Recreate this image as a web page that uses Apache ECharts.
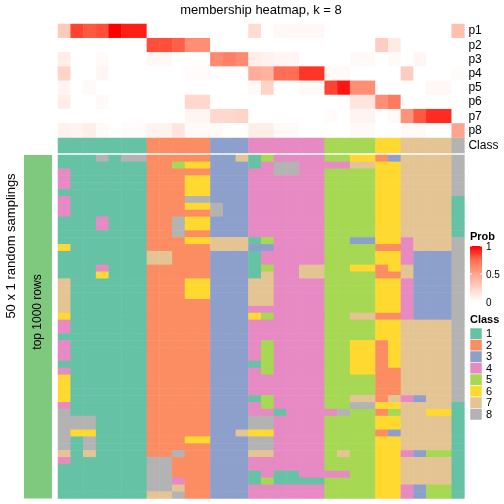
<!DOCTYPE html>
<html>
<head>
<meta charset="utf-8">
<script src="https://cdn.jsdelivr.net/npm/echarts@6/dist/echarts.min.js"></script>
<style>html,body{margin:0;padding:0;background:#fff}#c{width:504px;height:504px}</style>
</head>
<body>
<div id="c"></div>
<script>
// ---------- data ----------
var probRows = ['p1','p2','p3','p4','p5','p6','p7','p8'];
var p1 = [0.3,0.85,0.8,0.82,1.0,0.93,0.93, 0,0,0,0,0, 0,0,0, 0.2,0,0.04,0.04,0.04,0.04, 0,0,0,0, 0,0, 0,0,0,0, 0.35];
var p2 = [0,0,0,0,0,0,0, 0.82,0.82,0.78,0.6,0.6, 0,0,0, 0,0,0,0,0,0, 0,0,0,0, 0.28,0.12, 0,0,0,0, 0];
var p3 = [0.1,0,0,0.03,0,0,0, 0.04,0.04,0,0,0, 0.62,0.67,0.62, 0.1,0.08,0.05,0.05,0,0, 0,0,0.03,0.03, 0,0.03, 0,0.05,0,0, 0];
var p4 = [0.25,0,0,0.05,0,0,0, 0,0,0,0.02,0.02, 0,0,0, 0.45,0.42,0.75,0.75,0.88,0.88, 0.03,0.03,0,0, 0,0, 0.28,0,0,0, 0.02];
var p5 = [0.05,0,0.03,0,0,0,0, 0,0,0,0,0, 0,0,0, 0.03,0.25,0,0,0.03,0.03, 0.85,0.95,0.6,0.6, 0,0, 0,0,0.04,0.04, 0];
var p6 = [0.1,0,0,0.03,0,0,0, 0,0,0,0.22,0.22, 0,0,0, 0,0,0,0,0,0, 0,0,0.15,0.15, 0.6,0.7, 0,0,0,0, 0];
var p7 = [0,0,0,0,0,0,0, 0,0,0,0.05,0.05, 0.22,0.22,0.25, 0,0,0,0,0,0, 0.02,0,0.06,0.06, 0,0.03, 0.58,0.8,0.9,0.9, 0];
var p8 = [0.08,0.06,0.1,0.03,0,0.02,0.02, 0.07,0.07,0.15,0.03,0.03, 0.03,0,0, 0.1,0.1,0.03,0.03,0,0, 0,0,0.03,0.03, 0,0, 0.03,0.03,0,0, 0.5];
var classRow = [1,1,1,1,1,1,1, 2,2,2,2,2, 3,3,3, 4,4,4,4,4,4, 5,5,5,5, 6,6, 7,7,7,7, 8];
// 50 random samplings, one string per row, one digit (class) per column
var samplings = [
 "11181882222233715444455662377778",
 "11111112256633314884444776677778",
 "41111112222233344884455556677778",
 "41111112226633344444455556677778",
 "41111112226633344444455556677778",
 "11111112226633344444455556677778",
 "41111112228833344444455556677771",
 "41111112226683344444455556677771",
 "41111112222283344444455556677771",
 "11141112286633344444455556677771",
 "11141112286633344444455556677771",
 "11111112282233344444455556677771",
 "11111112226677715444455336647778",
 "61111112222277733444455552247778",
 "11111117722233314444455556643338",
 "11111117722233314444455556643338",
 "11141112222233315447755662673338",
 "11161112222233317447755552273338",
 "71111112226633377444455556643338",
 "71111112226633377444455556643338",
 "71111112226633377444455556643338",
 "71111112222233377444455556643338",
 "71111112222233344444455556643338",
 "61111112222233365444455772243338",
 "41111112222233344444455556677778",
 "41111112222233344444455556677778",
 "11111112222233344444455556677778",
 "41111112222233345444455662677778",
 "41111112222233345444455662677778",
 "41111112222233345444455662677778",
 "11111112222233315444455662677778",
 "41111112222233345444455662277778",
 "61111112222233344444455552277778",
 "61111112222233344444455552277778",
 "61111112222233344444455552277778",
 "61111112222233315444455772743778",
 "41111112222233345444455886677771",
 "81111112222233344144448552577661",
 "88811112222233388444455556677771",
 "88811112222233388444455556677771",
 "86611112222233766444455552377771",
 "81811112226633388444455556677771",
 "81811112222233388444455556677771",
 "71711112282233377444457556643551",
 "41111118822233344444455556677771",
 "11111118822233344444455556677771",
 "11111118822233314114444556677771",
 "11111118842233315111155556677771",
 "11111118872233344444455556643551",
 "11111117782233344444455556643551"
];
var classColors = ['#66C2A5','#FC8D62','#8DA0CB','#E78AC3','#A6D854','#FFD92F','#E5C494','#B3B3B3'];
var classNames = ['1','2','3','4','5','6','7','8'];
var probTicks = ['1','0.5','0'];

// ---------- build series data ----------
var nCol = classRow.length;
var cols = []; for (var i = 0; i < nCol; i++) cols.push(String(i));
var probs = [p1,p2,p3,p4,p5,p6,p7,p8];
var probData = [];
probs.forEach(function(arr, r){ arr.forEach(function(v, c){ probData.push([c, r, v]); }); });
var classData = classRow.map(function(v, c){ return [c, 0, v]; });
var rowNames = [];
var mainData = [];
samplings.forEach(function(s, r){
  rowNames.push(String(r));
  for (var c = 0; c < s.length; c++) mainData.push([c, r, +s[c]]);
});

var FONT = 'Liberation Sans, Arial, Helvetica, sans-serif';
var GL = 58, GW = 406.4;
var grids = [
  {left: GL, top: 24, width: GW, height: 113.6, outerBoundsMode: 'none', containLabel: false},
  {left: GL, top: 138, width: GW, height: 15, outerBoundsMode: 'none', containLabel: false},
  {left: GL, top: 155, width: GW, height: 343.5, outerBoundsMode: 'none', containLabel: false}
];
function xAx(i){ return {type:'category', gridIndex:i, data:cols, show:false}; }
var chart = echarts.init(document.getElementById('c'), null, {renderer:'canvas'});

var pieces = classColors.map(function(col, i){ return {value: i+1, color: col}; });

// legend graphics
var g = [];
g.push({type:'text', x:261, y:10.5, style:{text:'membership heatmap, k = 8', font:'13px '+FONT, fill:'#000', align:'center', verticalAlign:'middle'}});
g.push({type:'rect', shape:{x:24, y:155, width:28, height:343.5}, style:{fill:'#7FC97F'}});
g.push({type:'text', x:11, y:246, rotation:Math.PI/2, style:{text:'50 x 1 random samplings', font:'13px '+FONT, fill:'#000', align:'center', verticalAlign:'middle'}});
g.push({type:'text', x:38, y:312, rotation:Math.PI/2, style:{text:'top 1000 rows', font:'12px '+FONT, fill:'#000', align:'center', verticalAlign:'middle'}});
// Prob legend
g.push({type:'text', x:470, y:237, style:{text:'Prob', font:'bold 11px '+FONT, fill:'#000', align:'left', verticalAlign:'middle'}});
g.push({type:'rect', shape:{x:470, y:246, width:12, height:56}, style:{fill:{type:'linear', x:0, y:0, x2:0, y2:1, colorStops:[
  {offset:0, color:'#FF0000'},{offset:0.25, color:'#FF6E52'},{offset:0.5, color:'#FFA48C'},{offset:0.75, color:'#FFD3C6'},{offset:1, color:'#FFFFFF'}]}}});
probTicks.forEach(function(t, i){
  var y = 246 + i*28;
  g.push({type:'text', x:486, y:y+1, style:{text:t, font:'10px '+FONT, fill:'#000', align:'left', verticalAlign:'middle'}});
  g.push({type:'line', shape:{x1:470, y1:y, x2:472, y2:y}, style:{stroke:'#fff', lineWidth:1}});
  g.push({type:'line', shape:{x1:480, y1:y, x2:482, y2:y}, style:{stroke:'#fff', lineWidth:1}});
});
// Class legend
g.push({type:'text', x:470, y:320, style:{text:'Class', font:'bold 11px '+FONT, fill:'#000', align:'left', verticalAlign:'middle'}});
classColors.forEach(function(col, i){
  var y = 328 + i*11.5;
  g.push({type:'rect', shape:{x:470, y:y, width:12, height:11.5}, style:{fill:col, stroke:'#ffffff', lineWidth:0.5}});
  g.push({type:'text', x:486, y:y+6, style:{text:classNames[i], font:'11px '+FONT, fill:'#000', align:'left', verticalAlign:'middle'}});
});

var option = {
  animation: false,
  backgroundColor: '#fff',
  grid: grids,
  xAxis: [xAx(0), xAx(1), xAx(2)],
  yAxis: [
    {type:'category', gridIndex:0, data:probRows, inverse:true, position:'right',
     axisLine:{show:false}, axisTick:{show:false}, splitLine:{show:false},
     axisLabel:{interval:0, fontSize:12, color:'#000', margin:4, fontFamily:FONT}},
    {type:'category', gridIndex:1, data:['Class'], position:'right',
     axisLine:{show:false}, axisTick:{show:false}, splitLine:{show:false},
     axisLabel:{interval:0, fontSize:12, color:'#000', margin:4, fontFamily:FONT}},
    {type:'category', gridIndex:2, data:rowNames, inverse:true, show:false}
  ],
  visualMap: [
    {type:'continuous', seriesIndex:0, min:0, max:1, show:false,
     inRange:{color:['#FFFFFF','#FFD3C6','#FFA48C','#FF6E52','#FF0000']}},
    {type:'piecewise', seriesIndex:[1,2], show:false, pieces:pieces}
  ],
  series: [
    {type:'heatmap', xAxisIndex:0, yAxisIndex:0, data:probData, progressive:0, emphasis:{disabled:true}},
    {type:'heatmap', xAxisIndex:1, yAxisIndex:1, data:classData, progressive:0, emphasis:{disabled:true}},
    {type:'heatmap', xAxisIndex:2, yAxisIndex:2, data:mainData, progressive:0, emphasis:{disabled:true}}
  ],
  graphic: {elements: g}
};
chart.setOption(option);

// white separator between columns 25 and 26 (computed through the axis scale)
var a = chart.convertToPixel({xAxisIndex:1, yAxisIndex:1}, [25, 0]);
var b = chart.convertToPixel({xAxisIndex:1, yAxisIndex:1}, [26, 0]);
var sepX = (a[0] + b[0]) / 2;
g.push({type:'rect', shape:{x:sepX-0.7, y:138, width:1.4, height:360.5}, style:{fill:'#ffffff'}});
chart.setOption({graphic:{elements:g}});
</script>
</body>
</html>
